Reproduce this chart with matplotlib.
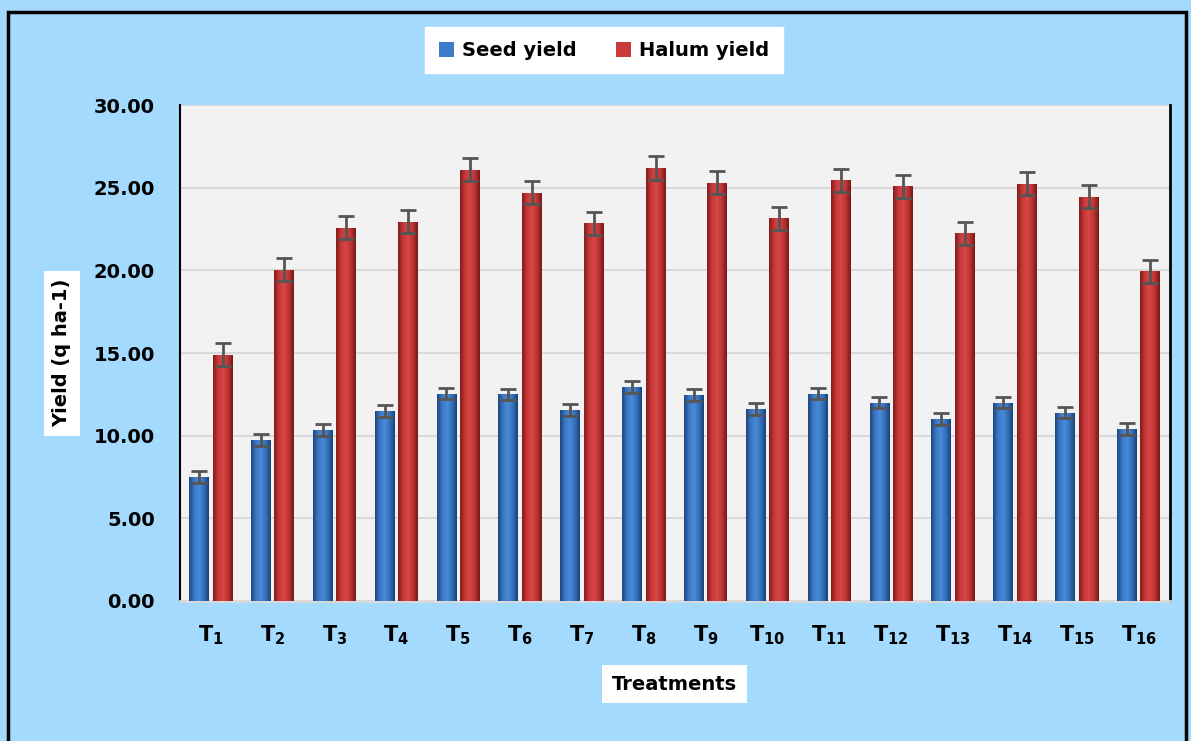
import numpy as np
import matplotlib.pyplot as plt
from matplotlib.patches import Rectangle
from matplotlib.colors import LinearSegmentedColormap

plt.rcParams["font.family"] = "DejaVu Sans"
plt.rcParams["mathtext.fontset"] = "custom"
plt.rcParams["mathtext.bf"] = "DejaVu Sans:bold"
plt.rcParams["mathtext.rm"] = "DejaVu Sans:bold"

treatments = [f"T{i}" for i in range(1, 17)]
seed_yield = [7.5, 9.75, 10.35, 11.5, 12.55, 12.5, 11.55, 12.95,
              12.45, 11.6, 12.55, 12.0, 11.0, 12.0, 11.4, 10.4]
halum_yield = [14.9, 20.05, 22.6, 22.95, 26.1, 24.7, 22.85, 26.2,
               25.3, 23.15, 25.45, 25.1, 22.25, 25.25, 24.45, 19.95]
seed_err = [0.35] * 16
halum_err = [0.7] * 16

bg = "#A3DAFD"
fig = plt.figure(figsize=(11.91, 7.41), dpi=100, facecolor=bg)
# outer frame
fig.patches.append(Rectangle((0.007, -0.01), 0.989, 0.994, transform=fig.transFigure,
                             fill=False, edgecolor="black", linewidth=2.5))

ax = fig.add_axes([0.151, 0.189, 0.831, 0.669])
ax.set_facecolor("#F2F2F2")

x = np.arange(len(treatments))
w = 0.32
off = 0.19

blue_cmap = LinearSegmentedColormap.from_list("b", ["#1E4680", "#3A78C4", "#4A8AD6", "#3370BC", "#1B4278"])
red_cmap = LinearSegmentedColormap.from_list("r", ["#841C1C", "#C73838", "#D84646", "#BE3434", "#781818"])
grad = np.linspace(0, 1, 64).reshape(1, -1)

def draw_bars(xs, vals, errs, cmap, base):
    bars = ax.bar(xs, vals, width=w, color=base, zorder=3, linewidth=0)
    for b in bars:
        bx, by = b.get_x(), b.get_y()
        im = ax.imshow(grad, cmap=cmap, aspect="auto", zorder=3.5,
                       extent=[bx, bx + b.get_width(), by, by + b.get_height()])
        im.set_clip_path(b)
    ax.errorbar(xs, vals, yerr=errs, fmt="none", ecolor="#555555",
                elinewidth=2, capsize=6, capthick=2, zorder=5)
    return bars

b1 = draw_bars(x - off, seed_yield, seed_err, blue_cmap, "#3C7BC8")
b2 = draw_bars(x + off, halum_yield, halum_err, red_cmap, "#C93A3A")

ax.set_xlim(-0.5, len(treatments) - 0.5)
ax.set_ylim(0, 30)
ax.set_yticks(np.arange(0, 31, 5))
ax.set_yticklabels([f"{v:.2f}" for v in np.arange(0, 31, 5)],
                   fontsize=14, fontweight="bold")
ax.set_xticks(x)
ax.set_xticklabels([rf"$\mathbf{{T_{{{t[1:]}}}}}$" for t in treatments], fontsize=15)
ax.tick_params(axis="y", length=0, pad=18)
ax.tick_params(axis="x", length=0, pad=16)
ax.yaxis.grid(True, color="#D9D9D9", linewidth=1.5, zorder=0)
ax.set_axisbelow(True)
ax.spines["top"].set_visible(False)
ax.spines["left"].set_color("black")
ax.spines["left"].set_linewidth(1.5)
ax.spines["right"].set_color("black")
ax.spines["right"].set_linewidth(2)
ax.spines["bottom"].set_color("#D9D9D9")
ax.spines["bottom"].set_linewidth(2)

ax.set_ylabel("Yield (q ha-1)", fontsize=14, fontweight="bold", labelpad=16,
              bbox=dict(facecolor="white", edgecolor="none", pad=6))
ax.set_xlabel("Treatments", fontsize=14, fontweight="bold", labelpad=20,
              bbox=dict(facecolor="white", edgecolor="none", pad=7))

leg = fig.legend([b1, b2], ["Seed yield", "Halum yield"], loc="center",
                 bbox_to_anchor=(0.507, 0.932), ncol=2, frameon=True,
                 fancybox=False, edgecolor="white", framealpha=1,
                 prop=dict(size=14, weight="bold"), handlelength=0.8,
                 handleheight=0.8, columnspacing=2.0, handletextpad=0.4,
                 borderpad=0.7, borderaxespad=0)

fig.savefig("out.png", dpi=100, facecolor=bg)
